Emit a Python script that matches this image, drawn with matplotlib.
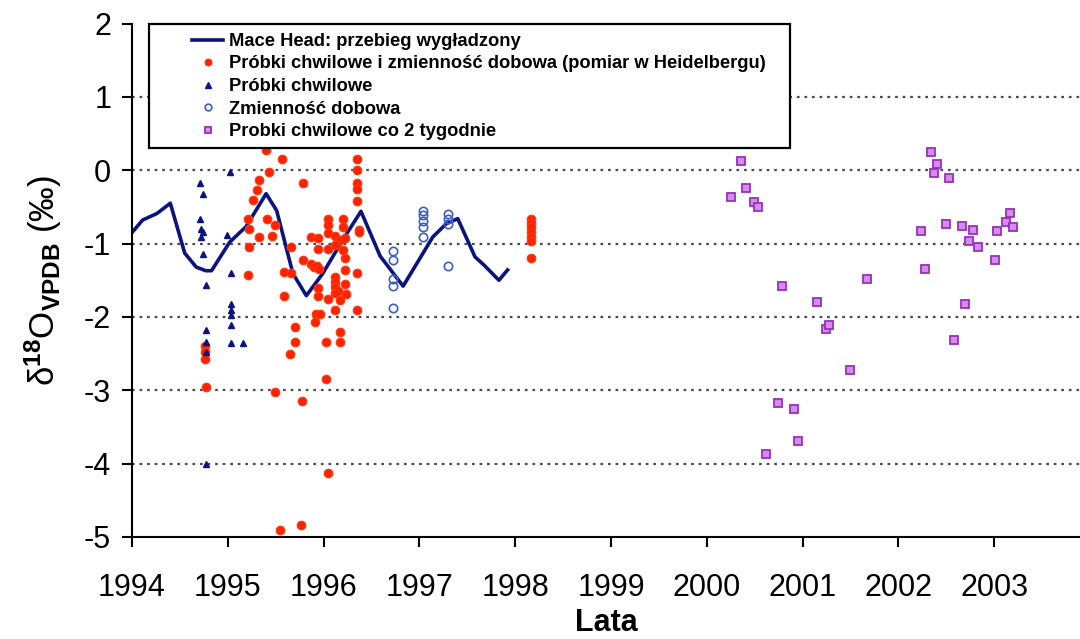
"""Zmienność delta18O w CO2 atmosferycznym: Mace Head, Heidelberg i próbki z lat 2000-2003.

Zapisuje wykres do out.png.
"""

import matplotlib
matplotlib.use("Agg")
import matplotlib.pyplot as plt
from matplotlib.patches import Rectangle

plt.rcParams["font.family"] = ["Liberation Sans", "DejaVu Sans"]
plt.rcParams["axes.unicode_minus"] = False   # zwykły minus "-" przy osi
plt.rcParams["mathtext.fontset"] = "custom"
plt.rcParams["mathtext.rm"] = "Liberation Sans"
plt.rcParams["mathtext.bf"] = "Liberation Sans:bold"
plt.rcParams["mathtext.it"] = "Liberation Sans:italic"

# --- Mace Head: przebieg wygładzony ---
mh_lata = [1994.00, 1994.11, 1994.26, 1994.40, 1994.55, 1994.67, 1994.77, 1994.83,
           1995.02, 1995.19, 1995.40, 1995.51, 1995.68, 1995.82, 1995.99, 1996.20,
           1996.39, 1996.59, 1996.83, 1997.14, 1997.28, 1997.40, 1997.58, 1997.68,
           1997.83, 1997.92]
mh_d18o = [-0.85, -0.68, -0.59, -0.45, -1.13, -1.32, -1.37, -1.37,
           -0.98, -0.77, -0.32, -0.55, -1.41, -1.71, -1.41, -0.95,
           -0.56, -1.17, -1.58, -0.91, -0.73, -0.66, -1.18, -1.30,
           -1.50, -1.36]

# --- próbki chwilowe i zmienność dobowa (Heidelberg) ---
hd_lata = [1994.76, 1994.76, 1994.76, 1994.77,
           1995.21, 1995.22, 1995.22, 1995.21, 1995.26, 1995.30, 1995.33, 1995.33,
           1995.40, 1995.43, 1995.41, 1995.46, 1995.49, 1995.57, 1995.49,
           1995.66, 1995.59, 1995.66, 1995.59, 1995.78, 1995.78, 1995.70, 1995.70,
           1995.65, 1995.77, 1995.54, 1995.76,
           1995.87, 1995.94, 1995.94, 1995.87, 1995.90, 1995.93, 1995.95,
           1995.94, 1995.94, 1995.92, 1995.96, 1995.91,
           1996.05, 1996.20, 1996.05, 1996.20, 1996.05, 1996.12, 1996.17, 1996.22,
           1996.05, 1996.12, 1996.20, 1996.22, 1996.22, 1996.12, 1996.12, 1996.22,
           1996.12, 1996.15, 1996.12, 1996.23, 1996.05, 1996.17, 1996.12,
           1996.17, 1996.17, 1996.02, 1996.02, 1996.05,
           1996.35, 1996.35, 1996.35, 1996.35, 1996.35, 1996.37, 1996.37, 1996.35, 1996.35,
           1998.16, 1998.16, 1998.16, 1998.16, 1998.16, 1998.16, 1998.16]
hd_d18o = [-2.40, -2.48, -2.57, -2.96,
           -0.66, -0.80, -1.04, -1.43, -0.40, -0.27, -0.13, -0.91,
           0.28, -0.02, -0.66, -0.90, -0.75, 0.15, -3.02,
           -1.05, -1.39, -1.40, -1.71, -0.18, -1.23, -2.14, -2.34,
           -2.50, -3.15, -4.91, -4.83,
           -0.91, -0.92, -1.07, -1.28, -1.32, -1.30, -1.34,
           -1.61, -1.71, -1.96, -1.96, -2.07,
           -0.66, -0.66, -0.75, -0.77, -0.86, -0.89, -0.95, -0.92,
           -1.08, -1.02, -1.09, -1.20, -1.36, -1.45, -1.52, -1.55,
           -1.59, -1.64, -1.68, -1.69, -1.75, -1.77, -1.91,
           -2.21, -2.34, -2.34, -2.84, -4.13,
           0.15, 0.00, -0.17, -0.25, -0.42, -0.81, -0.84, -1.40, -1.90,
           -0.66, -0.72, -0.78, -0.84, -0.91, -0.97, -1.19]

# --- próbki chwilowe ---
pc_lata = [1994.71, 1994.74, 1994.71, 1994.72, 1994.74, 1994.72, 1994.74, 1994.77,
           1994.77, 1994.77, 1994.77, 1994.77,
           1994.99, 1995.02, 1995.03, 1995.03, 1995.03, 1995.03, 1995.03, 1995.03,
           1995.16]
pc_d18o = [-0.18, -0.32, -0.66, -0.80, -0.84, -0.91, -1.14, -1.57,
           -2.18, -2.34, -2.48, -4.01,
           -0.88, -0.02, -1.40, -1.82, -1.90, -1.98, -2.11, -2.36,
           -2.36]

# --- zmienność dobowa ---
zd_lata = [1996.72, 1996.72, 1996.72, 1996.72, 1996.72,
           1997.04, 1997.04, 1997.04, 1997.04, 1997.04,
           1997.30, 1997.30, 1997.30, 1997.30]
zd_d18o = [-1.10, -1.22, -1.48, -1.58, -1.88,
           -0.55, -0.61, -0.69, -0.78, -0.91,
           -0.60, -0.67, -0.73, -1.30]

# --- próbki chwilowe co 2 tygodnie (2000-2003) ---
tyg_lata = [2000.25, 2000.36, 2000.41, 2000.49, 2000.53, 2000.62, 2000.74, 2000.79,
            2000.91, 2000.95, 2001.15, 2001.24, 2001.28, 2001.49, 2001.67,
            2002.24, 2002.28, 2002.34, 2002.37, 2002.40, 2002.50, 2002.53, 2002.58,
            2002.66, 2002.70, 2002.74, 2002.78, 2002.83,
            2003.01, 2003.03, 2003.12, 2003.16, 2003.20]
tyg_d18o = [-0.36, 0.13, -0.24, -0.44, -0.50, -3.87, -3.17, -1.58,
            -3.26, -3.69, -1.80, -2.17, -2.11, -2.73, -1.48,
            -0.83, -1.35, 0.25, -0.04, 0.09, -0.74, -0.10, -2.32,
            -0.76, -1.83, -0.97, -0.81, -1.05,
            -1.22, -0.83, -0.70, -0.59, -0.77]

lata_ticks = list(range(1994, 2004))
d18o_ticks = [-5, -4, -3, -2, -1, 0, 1, 2]

W, H = 1080, 639


def main() -> None:
    fig = plt.figure(figsize=(W / 100, H / 100), dpi=100)
    ax = fig.add_axes([132 / W, 1 - 537 / H, (W - 132) / W, (537 - 23.5) / H])

    ln, = ax.plot(mh_lata, mh_d18o, color="#0a1480", lw=2.6, zorder=2,
                  label="Mace Head: przebieg wygładzony")
    hd, = ax.plot(hd_lata, hd_d18o, ls="none", marker="o", ms=6.2,
                  mfc="#ff2200", mec="#ff3a10", mew=0.8, zorder=3,
                  label="Próbki chwilowe i zmienność dobowa (pomiar w Heidelbergu)")
    pc, = ax.plot(pc_lata, pc_d18o, ls="none", marker="^", ms=5,
                  color="#0a1480", zorder=3, label="Próbki chwilowe")
    zd, = ax.plot(zd_lata, zd_d18o, ls="none", marker="o", ms=6,
                  mfc="none", mec="#3c5cc8", mew=1.2, zorder=3,
                  label="Zmienność dobowa")
    tg, = ax.plot(tyg_lata, tyg_d18o, ls="none", marker="s", ms=6,
                  mfc="#d48cf0", mec="#9a30b8", mew=1.3, zorder=3,
                  label="Probki chwilowe co 2 tygodnie")

    ax.set_xlim(1994, 1994 + (W - 132) / 95.8)
    ax.set_ylim(-5, 2)
    ax.set_xticks(lata_ticks)
    ax.set_yticks(d18o_ticks)

    # kropkowane linie pomocnicze tylko w środku zakresu
    for y in d18o_ticks[1:-1]:
        ax.axhline(y, color="#4a4a4a", lw=1.6, ls=(0, (1.2, 2.2)), zorder=0.5)

    for s in ("top", "right"):
        ax.spines[s].set_visible(False)
    for s in ("left", "bottom"):
        ax.spines[s].set_linewidth(1.5)
    ax.tick_params(axis="both", direction="out", length=7, width=1.5,
                   labelsize=22, colors="black")
    ax.tick_params(axis="x", pad=19)
    ax.tick_params(axis="y", pad=8)

    ax.set_xlabel("Lata", fontsize=22, fontweight="bold")
    ax.xaxis.set_label_coords(0.5, -0.138)
    ax.set_ylabel("δ$^{\\mathbf{18}}$O$_{\\mathbf{VPDB}}$ (‰)", fontsize=25)
    ax.yaxis.set_label_coords(-0.072, 0.5)

    # ramka legendy
    ramka = Rectangle((149 / W, 1 - 148 / H), (790 - 149) / W, (148 - 24) / H,
                      transform=fig.transFigure, facecolor="white",
                      edgecolor="black", lw=1.6, zorder=4, clip_on=False)
    ax.add_patch(ramka)
    leg = ax.legend(handles=[ln, hd, pc, zd, tg], loc="upper left",
                    bbox_to_anchor=(192 / W, 1 - 33 / H),
                    bbox_transform=fig.transFigure, frameon=False,
                    fontsize=13.2, handlelength=1.7, handletextpad=0.3,
                    labelspacing=0.3, borderpad=0, borderaxespad=0,
                    markerscale=0.8)
    leg.set_zorder(5)
    for t in leg.get_texts():
        t.set_fontweight("bold")

    fig.savefig("out.png", dpi=100)
    plt.close(fig)


if __name__ == "__main__":
    main()
